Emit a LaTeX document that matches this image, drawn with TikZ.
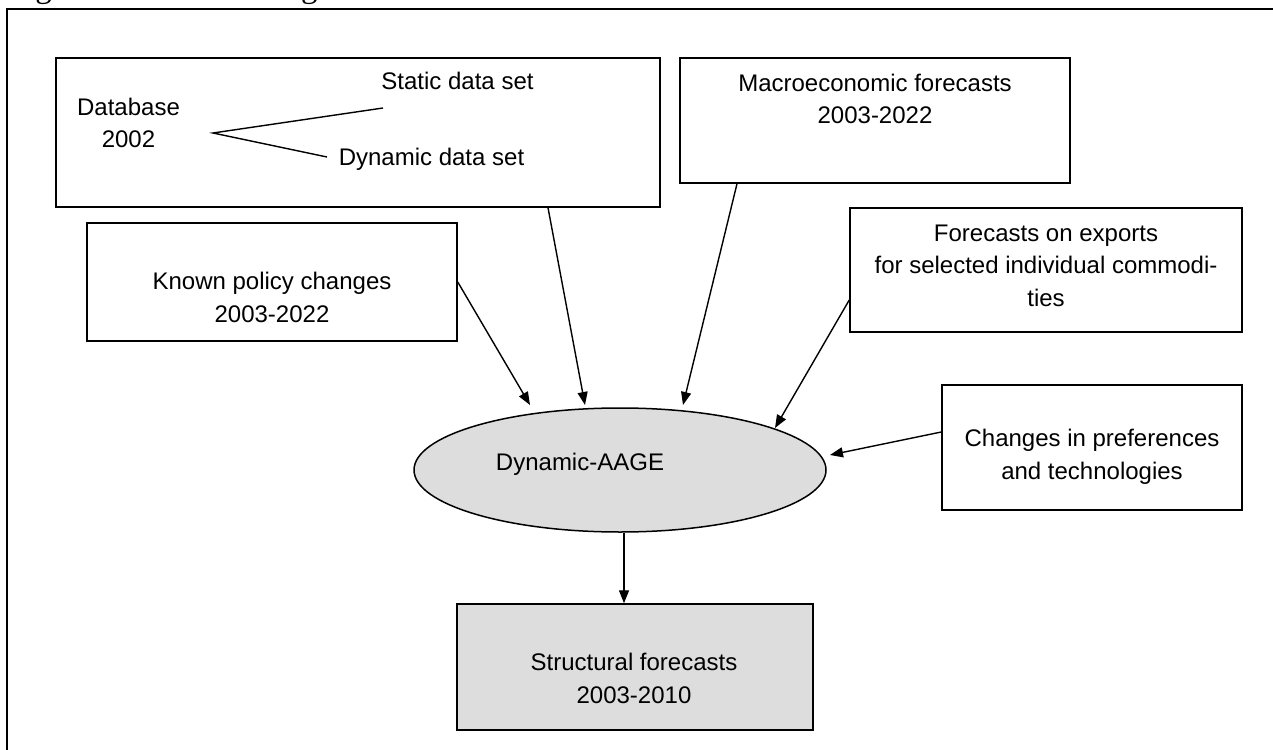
\documentclass[tikz,border=0pt]{standalone}
\usepackage{fontspec}
\setmainfont{Liberation Sans}
\newfontfamily\titlefont{Liberation Serif}
\usetikzlibrary{shapes.geometric,arrows.meta,calc}
\definecolor{fillgray}{HTML}{DDDDDD}
\tikzset{
  box/.style={draw, line width=0.75pt, rectangle, inner sep=0pt},
  txt/.style={anchor=base, align=center, inner sep=0pt, font=\fontsize{12}{16.25}\selectfont},
  conn/.style={line width=0.7pt, -{Triangle[length=6.5pt,width=5pt]}},
  plain/.style={line width=0.7pt}
}
\begin{document}
\begin{tikzpicture}[x=0.5pt,y=-0.5pt]
\useasboundingbox (0,0) rectangle (1273,749);
\clip (0,0) rectangle (1273,749);
% title (cut off at top)
\node[anchor=base west, inner sep=0pt, font=\titlefont\fontsize{16.5}{20}\selectfont] (title) at (7.5,-2) {Figure 4.1: Forecasting flows};
% outer frame
\draw[line width=1pt] (7,780) -- (7,9) -- (1290,9);
% boxes
\node[box, minimum width=302pt, minimum height=74.5pt] (db) at (358,132.5) {};
\node[box, minimum width=195pt, minimum height=62.5pt] (macro) at (875,120.5) {};
\node[box, minimum width=196pt, minimum height=62pt] (fc) at (1046,270) {};
\node[box, minimum width=185pt, minimum height=59pt] (kp) at (272,282) {};
\node[box, minimum width=150pt, minimum height=62.5pt] (ch) at (1092,447.5) {};
\node[draw, line width=0.75pt, ellipse, fill=fillgray, inner sep=0pt, minimum width=206pt, minimum height=62pt] (ell) at (620,470) {};
\node[box, fill=fillgray, minimum width=178pt, minimum height=63pt] (sf) at (635,667) {};
% texts
\node[txt] (dbt) at (128.5,148) {Database\\2002};
\node[txt] (static) at (457.5,90) {Static data set};
\node[txt] (dyn) at (431.5,165) {Dynamic data set};
\node[txt] (macrot) at (875,124) {Macroeconomic forecasts\\2003-2022};
\node[txt] (fct) at (1046,306) {Forecasts on exports\\for selected individual commodi-\\ties};
\node[txt] (kpt) at (272,322) {Known policy changes\\2003-2022};
\node[txt] (cht) at (1092,479) {Changes in preferences\\and technologies};
\node[txt] (ellt) at (580,470) {Dynamic-AAGE};
\node[txt] (sft) at (634,703) {Structural forecasts\\2003-2010};
% branching lines inside database box
\coordinate (fork) at (213,133);
\coordinate (staticend) at (383,108);
\coordinate (dynend) at (327,157);
\draw[plain] (staticend) -- (fork) -- (dynend);
% arrow tips
\coordinate (t1) at (530,405);
\coordinate (t2) at (585,405);
\coordinate (t3) at (683,405);
\coordinate (t4) at (775,428);
\coordinate (t5) at (830,455);
% connectors
\draw[conn] (kp.east) -- (t1);
\draw[conn] ($(db.south)+(190,0)$) -- (t2);
\draw[conn] ($(macro.south)+(-138,0)$) -- (t3);
\draw[conn] ($(fc.west)+(0,30)$) -- (t4);
\draw[conn] ($(ch.west)+(0,-15.5)$) -- (t5);
\draw[conn] ($(ell.south)+(4,0)$) -- ($(sf.north)+(-11,0)$);
\end{tikzpicture}
\end{document}
